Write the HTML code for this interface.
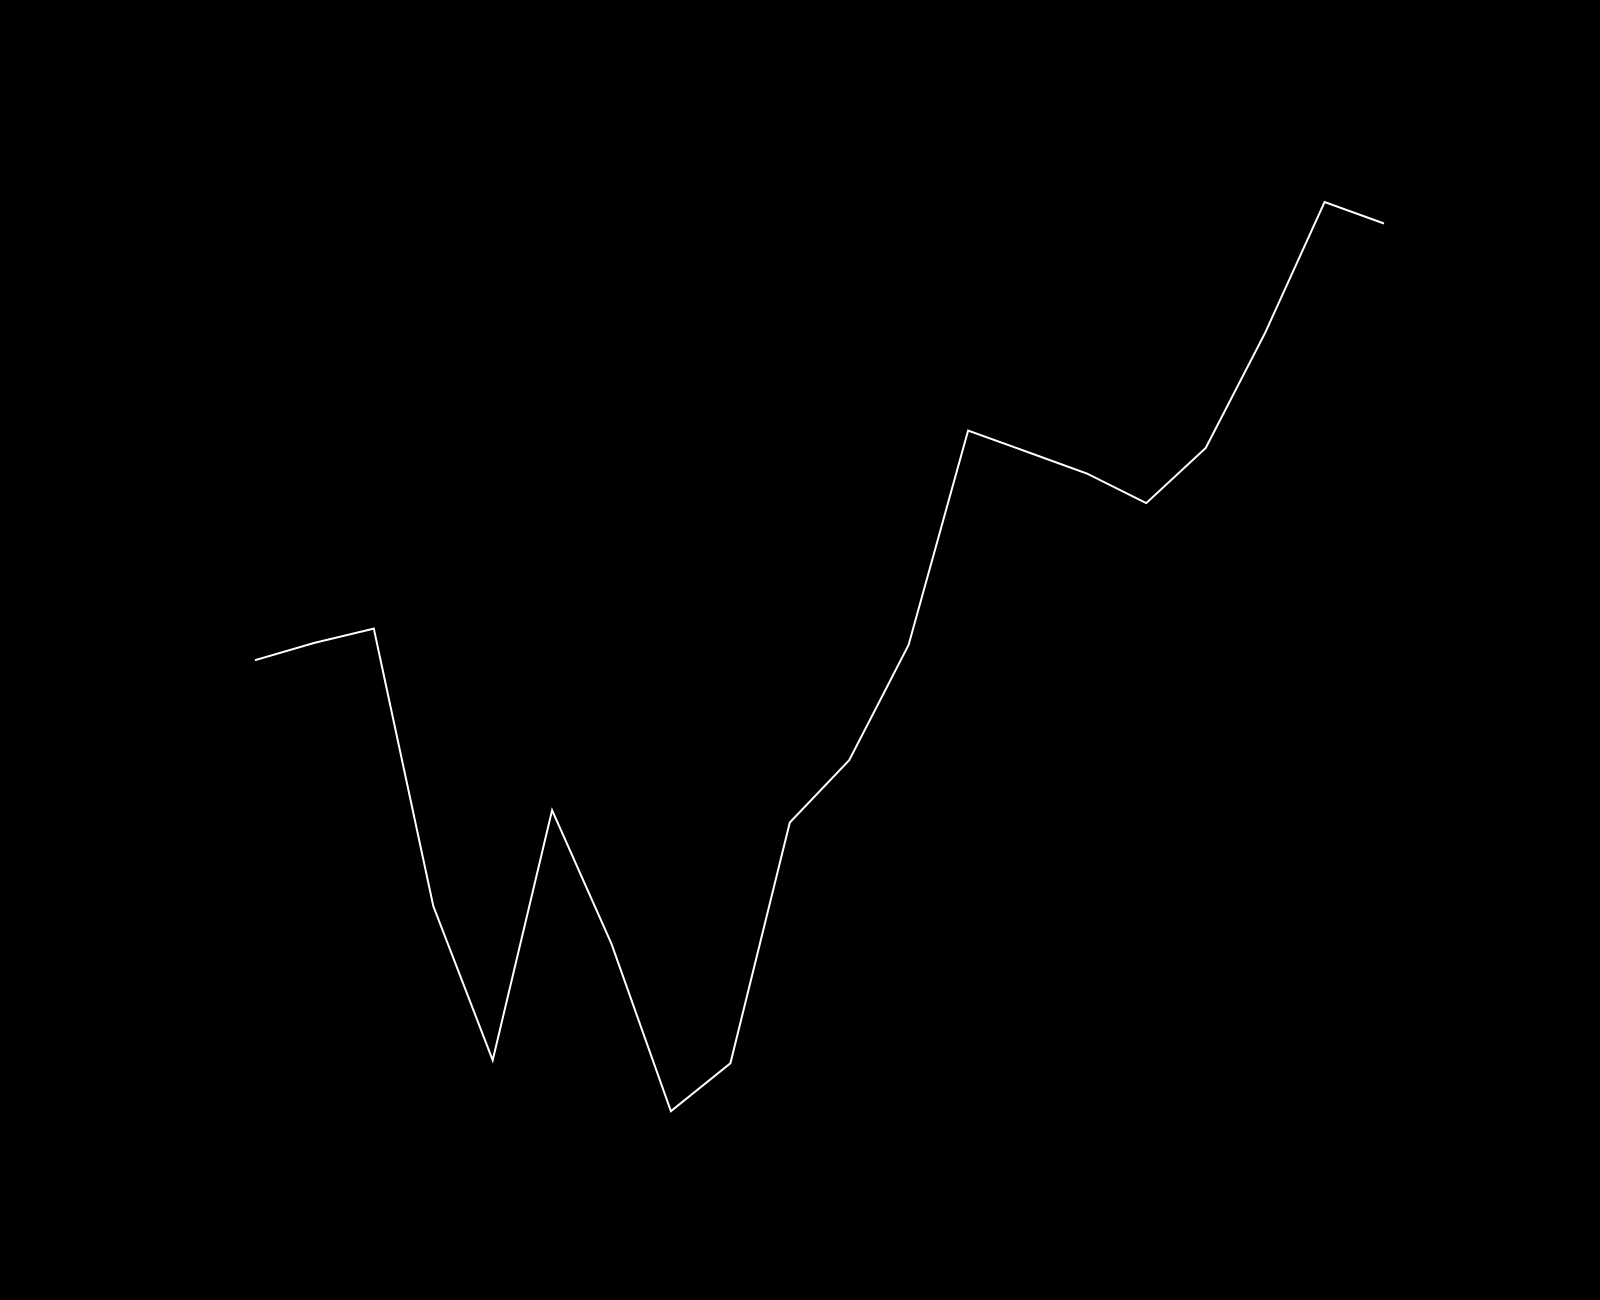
<!DOCTYPE html>
<html><head><meta charset="utf-8"><style>
html,body{margin:0;padding:0;background:#000;width:1600px;height:1300px;overflow:hidden}
</style></head><body>
<svg id="chart" width="1600" height="1300" viewBox="0 0 1600 1300" xmlns="http://www.w3.org/2000/svg">
<rect width="1600" height="1300" fill="#000"/>
</svg>
<script>
const categories = [0,1,2,3,4,5,6,7,8,9,10,11,12,13,14,15,16,17,18,19];
const seriesValues = [627,644,658,386,235,480,349,185,232,468,529,642,852,831,810,781,835,948,1076,1055];
function xScale(i){ return 255 + i * (1384 - 255) / (categories.length - 1); }
function yScale(v){ return 1300 - v * 1.0204; }
const svg = document.getElementById('chart');
const pts = categories.map((c, i) => xScale(i).toFixed(1) + ',' + yScale(seriesValues[i]).toFixed(1)).join(' ');
const line = document.createElementNS('http://www.w3.org/2000/svg', 'polyline');


line.setAttribute('points', pts);
line.setAttribute('fill', 'none');
line.setAttribute('stroke', '#fff');
line.setAttribute('stroke-width', '2');
line.setAttribute('stroke-linejoin', 'miter');
svg.appendChild(line);
</script>
</body></html>
